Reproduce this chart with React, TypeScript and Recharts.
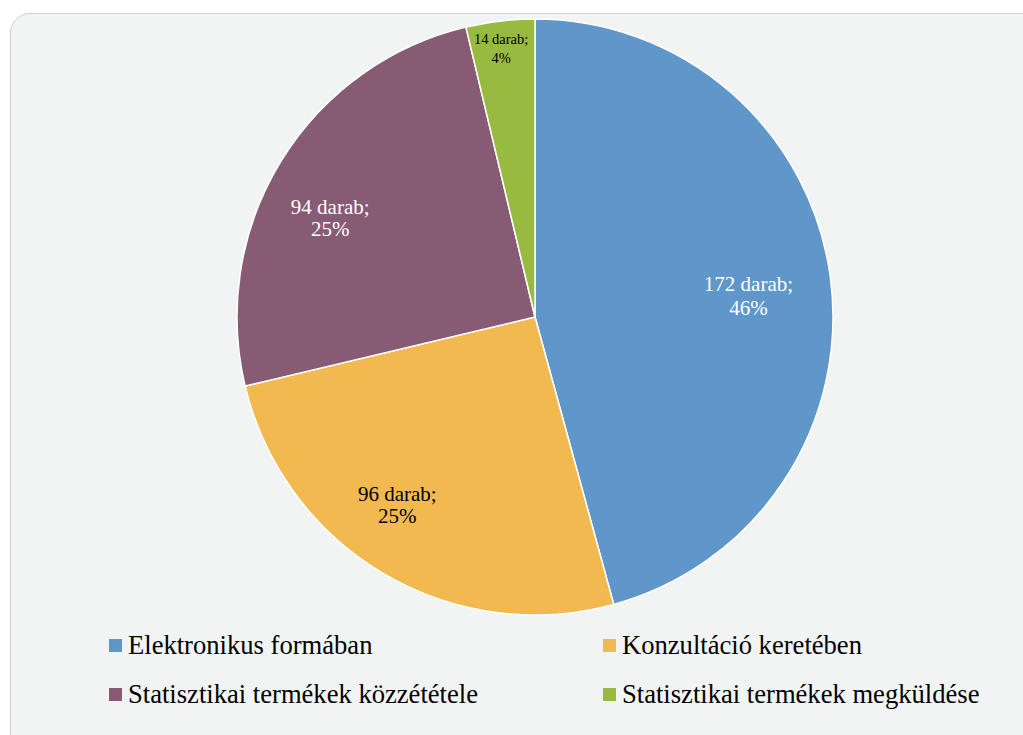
import React from 'react';
import { PieChart, Pie, Cell, Legend } from 'recharts';

const CATEGORIES = [
  'Elektronikus formában',
  'Konzultáció keretében',
  'Statisztikai termékek közzététele',
  'Statisztikai termékek megküldése',
];
const COUNTS = [172, 96, 94, 14];
const PERCENTS = ['46%', '25%', '25%', '4%'];

const COLORS = ['#5F97CA', '#F1B94F', '#875B74', '#99BA41'];
const LABEL_COLORS = ['#ffffff', '#000000', '#ffffff', '#000000'];
// radius fraction + clockwise angle nudge (deg) for each data label
const LABEL_POS = [
  { r: 0.72, a: 1.9, size: 21, lh: 24 },
  { r: 0.78, a: 5.7, size: 21, lh: 22 },
  { r: 0.764, a: -5.7, size: 21, lh: 22 },
  { r: 0.908, a: -0.5, size: 14.5, lh: 19 },
];

const data = CATEGORIES.map((name, i) => ({ name, value: COUNTS[i], pct: PERCENTS[i] }));

const RAD = Math.PI / 180;
const FONT = '"Liberation Serif", "Times New Roman", serif';

const renderLabel = (props: any) => {
  const { cx, cy, midAngle, outerRadius, index } = props;
  const p = LABEL_POS[index];
  const ang = midAngle - p.a;
  const r = outerRadius * p.r;
  const x = cx + r * Math.cos(-ang * RAD);
  const y = cy + r * Math.sin(-ang * RAD);
  return (
    <text
      x={x}
      y={y}
      textAnchor="middle"
      fill={LABEL_COLORS[index]}
      fontSize={p.size}
      fontFamily={FONT}
    >
      <tspan x={x} y={y - p.lh / 2 + p.size * 0.35}>{`${COUNTS[index]} darab;`}</tspan>
      <tspan x={x} y={y + p.lh / 2 + p.size * 0.35}>{PERCENTS[index]}</tspan>
    </text>
  );
};

const LEGEND_SLOTS = [
  { left: 109, top: 0 },
  { left: 603, top: 0 },
  { left: 109, top: 49 },
  { left: 603, top: 49 },
];

const renderLegend = (props: any) => {
  const { payload } = props;
  return (
    <div style={{ position: 'relative', width: 1023, height: 100 }}>
      {(payload || []).map((entry: any, i: number) => (
        <div
          key={entry.value}
          style={{
            position: 'absolute',
            left: LEGEND_SLOTS[i].left,
            top: LEGEND_SLOTS[i].top,
            height: 30,
            lineHeight: '30px',
            display: 'flex',
            alignItems: 'center',
            fontFamily: FONT,
            fontSize: 26.6,
            color: '#000',
            whiteSpace: 'nowrap',
          }}
        >
          <span
            style={{
              display: 'inline-block',
              width: 13,
              height: 13,
              background: entry.color,
              marginRight: 6,
            }}
          />
          {entry.value}
        </div>
      ))}
    </div>
  );
};

export default function App() {
  return (
    <div style={{ position: 'absolute', left: 0, top: 0, width: 1023, height: 735, overflow: 'hidden', background: '#fff' }}>
      <div
        style={{
          position: 'absolute',
          left: 10,
          top: 13,
          width: 1040,
          height: 760,
          background: '#F2F4F3',
          border: '1px solid #CFCFCF',
          borderRadius: 20,
        }}
      />
      <div style={{ position: 'absolute', left: 0, top: 0 }}>
        <PieChart width={1023} height={735} margin={{ top: 0, right: 0, bottom: 0, left: 0 }}>
          <Pie
            data={data}
            dataKey="value"
            nameKey="name"
            cx={535}
            cy={317}
            outerRadius={298}
            startAngle={90}
            endAngle={-270}
            stroke="#ffffff"
            strokeWidth={1.5}
            label={renderLabel}
            labelLine={false}
            isAnimationActive={false}
          >
            {data.map((d, i) => (
              <Cell key={d.name} fill={COLORS[i]} />
            ))}
          </Pie>
          <Legend
            content={renderLegend}
            wrapperStyle={{ left: 0, top: 630, width: 1023 }}
          />
        </PieChart>
      </div>
    </div>
  );
}
